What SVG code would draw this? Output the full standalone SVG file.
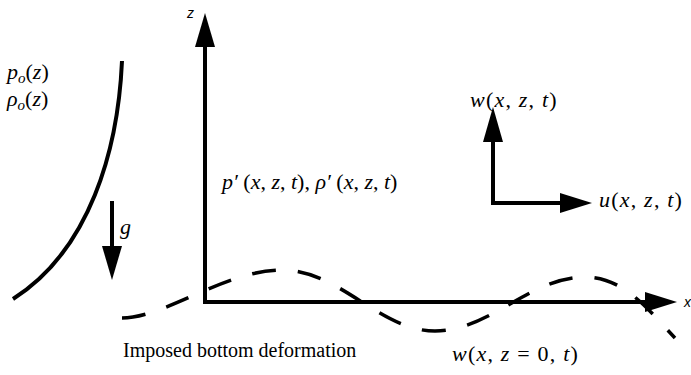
<svg xmlns="http://www.w3.org/2000/svg" width="691" height="375" viewBox="0 0 691 375">
<style>
.t{font-family:"Liberation Serif","Times New Roman",serif;font-size:20px;fill:#000}
.m{font-family:"Liberation Serif","Times New Roman",serif;font-size:22px;fill:#000}
.sp{letter-spacing:1.2px}
.i{font-style:italic}
.s{font-family:"Liberation Sans",Arial,sans-serif;font-size:14px;font-style:italic;fill:#000}
.ax{stroke:#000;stroke-width:4;fill:none}
.ah{fill:#000}
.wave{stroke:#000;stroke-width:3.5;fill:none;stroke-dasharray:24 22}
.curve{stroke:#000;stroke-width:4;fill:none}
</style>
<rect width="691" height="375" fill="#fff"/>
<g id="connectors">
  <line class="ax" x1="205" y1="304" x2="205" y2="44"/>
  <polygon class="ah" points="205,13 195,47 215,47"/>
  <line class="ax" x1="203" y1="302" x2="648" y2="302"/>
  <polygon class="ah" points="677,302 645,292 645,312"/>
  <line class="ax" x1="493" y1="205" x2="493" y2="140"/>
  <polygon class="ah" points="493,107 483,142 503,142"/>
  <line class="ax" x1="491" y1="203" x2="562" y2="203"/>
  <polygon class="ah" points="592,203 560,193 560,213"/>
  <line class="ax" x1="112" y1="201" x2="112" y2="248"/>
  <polygon class="ah" points="112,280 102,246 122,246"/>
</g>
<g id="background-profile">
  <path class="curve" d="M122,61 C118,150 90,250 13,299"/>
  <text class="m" x="7" y="79"><tspan class="i">p</tspan><tspan class="i" font-size="15" dy="4">o</tspan><tspan dy="-4">(</tspan><tspan class="i">z</tspan>)</text>
  <text class="m" x="7" y="106"><tspan class="i">ρ</tspan><tspan class="i" font-size="15" dy="4">o</tspan><tspan dy="-4">(</tspan><tspan class="i">z</tspan>)</text>
  <text class="m i" x="120" y="234">g</text>
</g>
<g id="bottom-wave">
  <path class="wave" d="M122,318 C165,318 225,270 282,270 C340,270 380,331 435,331 C490,331 530,277 585,277 C625,277 650,312 675,338"/>
</g>
<g id="labels">
  <text class="s" x="187" y="18">z</text>
  <text class="s" x="684" y="307">x</text>
  <text class="m" x="222" y="189"><tspan class="i">p′</tspan> (<tspan class="i">x</tspan>, <tspan class="i">z</tspan>, <tspan class="i">t</tspan>), <tspan class="i">ρ′</tspan> (<tspan class="i">x</tspan>, <tspan class="i">z</tspan>, <tspan class="i">t</tspan>)</text>
  <text class="m sp" x="470" y="107"><tspan class="i">w</tspan>(<tspan class="i">x</tspan>, <tspan class="i">z</tspan>, <tspan class="i">t</tspan>)</text>
  <text class="m sp" x="599" y="207"><tspan class="i">u</tspan>(<tspan class="i">x</tspan>, <tspan class="i">z</tspan>, <tspan class="i">t</tspan>)</text>
  <text class="t" x="123" y="357">Imposed bottom deformation</text>
  <text class="m sp" x="452" y="361"><tspan class="i">w</tspan>(<tspan class="i">x</tspan>, <tspan class="i">z</tspan> = 0, <tspan class="i">t</tspan>)</text>
</g>
</svg>
